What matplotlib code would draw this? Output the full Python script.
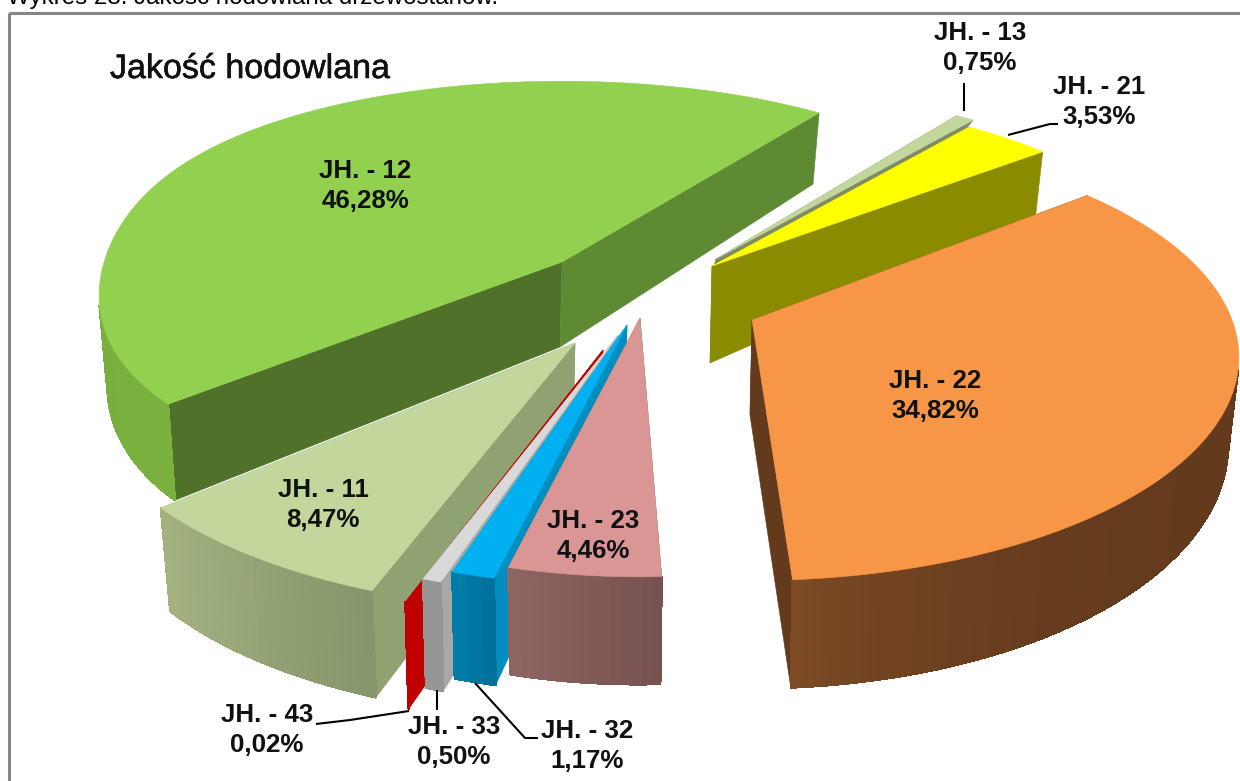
import numpy as np
import matplotlib
matplotlib.use('Agg')
import matplotlib.pyplot as plt
import matplotlib.patheffects as pe
from matplotlib.patches import Polygon, Rectangle

plt.rcParams['font.family'] = ['Liberation Sans', 'DejaVu Sans']

# data, clockwise from the top of the pie
names = ['JH. - 13', 'JH. - 21', 'JH. - 22', 'JH. - 23', 'JH. - 32', 'JH. - 33', 'JH. - 43', 'JH. - 11', 'JH. - 12']
values = [0.75, 3.53, 34.82, 4.46, 1.17, 0.50, 0.02, 8.47, 46.28]

start_angle = 54

# look of each slice: apex, radii, perspective, depth, depth falloff
slice_style = {
    'JH. - 13': dict(apex=(716, 259), R=478, S=207, k=0.208, depth=8, fall=0.0),
    'JH. - 21': dict(apex=(712, 266), R=478, S=207, k=0.208, depth=97, fall=0.47),
    'JH. - 22': dict(apex=(752, 320), R=480, S=217, k=0.167, depth=83, fall=0.3, turn=0.8, apex_depth=95, wall_pow=8),
    'JH. - 23': dict(apex=(640, 318), R=440, S=205, k=0.208, depth=84, fall=0.28, turn=-1),
    'JH. - 32': dict(apex=(627, 325), R=478, S=207, k=0.208, depth=84, fall=0.28),
    'JH. - 33': dict(apex=(618, 335), R=485, S=207, k=0.208, depth=86, fall=0.28),
    'JH. - 43': dict(apex=(603, 350), R=490, S=214, k=0.208, depth=84, fall=0.28),
    'JH. - 11': dict(apex=(575, 343), R=480, S=212, k=0.208, depth=95, fall=0.13, turn=-1, shrink=0.975, span=0.92),
    'JH. - 12': dict(apex=(562, 262), R=482, S=203, k=0.123, depth=85, fall=0.2, squeeze=0.05),
}
# top, cut face, wall start, wall end
slice_colors = {
    'JH. - 13': ('#C3D69B', '#7F8A66', '#7F8A66', '#7F8A66'),
    'JH. - 21': ('#FFFF00', '#8B8B00', '#8B8B00', '#8B8B00'),
    'JH. - 22': ('#F79646', '#643A1D', '#643A1D', '#7E4C26'),
    'JH. - 23': ('#D99694', '#8A6360', '#785250', '#8E6663'),
    'JH. - 32': ('#00B0F0', '#008DBF', '#00719B', '#0081B0'),
    'JH. - 33': ('#D9D9D9', '#A8A8A8', '#969696', '#969696'),
    'JH. - 43': ('#C00000', '#C00000', '#C00000', '#C00000'),
    'JH. - 11': ('#C3D69B', '#91A272', '#86966A', '#A5B383'),
    'JH. - 12': ('#92D050', '#4F7129', '#7AB03E', '#76AB3C'),
}
far_cut_color = {'JH. - 12': '#5F8A34'}

# label centres and leader lines
label_pos = {
    'JH. - 13': (980, 48), 'JH. - 21': (1099, 102), 'JH. - 22': (935, 396),
    'JH. - 23': (593, 536), 'JH. - 32': (587, 746), 'JH. - 33': (454, 742),
    'JH. - 43': (267, 730), 'JH. - 11': (323, 505), 'JH. - 12': (365, 186),
}
leaders = [
    ([964, 964], [83, 111]),
    ([1008, 1050, 1058], [135, 124, 124]),
    ([409, 350, 316], [711, 720, 724]),
    ([437, 437], [690, 710]),
    ([475, 525, 538], [683, 738, 738]),
]


def project(theta, st, lower=False):
    u, v = np.cos(theta), np.sin(theta)
    w = 1 + st['k'] * v
    r = 1 - st.get('squeeze', 0) * abs(u) ** 6
    x = st['R'] * r * u / w
    y = -st['S'] * r * v / w
    if lower:
        x = x * st.get('shrink', 0.98) - 1
        y = y + st['depth'] * (1 - st['fall'] * v)
    return st['apex'][0] + x, st['apex'][1] + y


def apex_points(st):
    ax0, ay0 = st['apex']
    return (ax0, ay0), (ax0 - 2, ay0 + st.get('apex_depth', st['depth']))


def area(pts):
    p = np.array(pts)
    return 0.5 * np.sum(p[:, 0] * np.roll(p[:, 1], -1) - np.roll(p[:, 0], -1) * p[:, 1])


def mix(c1, c2, t):
    a = np.array(matplotlib.colors.to_rgb(c1))
    b = np.array(matplotlib.colors.to_rgb(c2))
    return tuple(a + (b - a) * t)


fig = plt.figure(figsize=(12.4, 7.81), dpi=100)
ax = fig.add_axes([0, 0, 1, 1])
ax.set_xlim(0, 1240)
ax.set_ylim(781, 0)
ax.axis('off')

ax.text(7, 4, 'Wykres 23. Jakość hodowlana drzewostanów.', fontsize=17.4, va='baseline', color='black')
ax.add_patch(Rectangle((8.5, 13), 1300, 900, fill=False, ec='#868686', lw=2.2, zorder=1))

# angles of each slice come from the values
stops = start_angle - np.cumsum([0] + values) * 3.6
spans = {n: (stops[i], stops[i + 1]) for i, n in enumerate(names)}

draw_order = ['JH. - 13', 'JH. - 21', 'JH. - 22', 'JH. - 12', 'JH. - 11', 'JH. - 43', 'JH. - 33', 'JH. - 32', 'JH. - 23']
z = 2
for name in draw_order:
    st = slice_style[name]
    top_c, cut_c, wall_a, wall_b = slice_colors[name]
    a0, a1 = np.radians(np.array(spans[name]) + st.get('turn', 0))
    a1 = a0 + (a1 - a0) * st.get('span', 1)
    n = max(3, int(abs(a1 - a0) * 60))
    th = np.linspace(a0, a1, n)
    top = [project(t, st) for t in th]
    low = [project(t, st, lower=True) for t in th]
    p_top, p_low = apex_points(st)

    # cut faces first, then the outer wall, the top last
    face0 = [p_top, top[0], low[0], p_low]
    face1 = [p_top, top[-1], low[-1], p_low]
    c1 = far_cut_color.get(name, cut_c)
    ax.add_patch(Polygon(face0, fc=cut_c, ec=cut_c, lw=0.4, zorder=z))
    ax.add_patch(Polygon(face1, fc=c1, ec=c1, lw=0.4, zorder=z))
    for i in range(n - 1):
        quad = [top[i], top[i + 1], low[i + 1], low[i]]
        if area(quad) < 0:
            c = mix(wall_a, wall_b, (i / (n - 1)) ** st.get('wall_pow', 1))
            ax.add_patch(Polygon(quad, fc=c, ec=c, lw=1.0, antialiased=False, zorder=z + 0.1))
    ax.add_patch(Polygon([p_top] + top, fc=top_c, ec=top_c, lw=0.4, zorder=z + 0.2))
    z += 1

for name, val in zip(names, values):
    txt = name + '\n' + f'{val:.2f}'.replace('.', ',') + '%'
    ax.text(label_pos[name][0], label_pos[name][1], txt, ha='center', va='center',
            fontsize=18.6, fontweight='bold', linespacing=1.3, color='#111111', zorder=30)

ax.text(110, 78, 'Jakość hodowlana', fontsize=24.5, va='baseline', ha='left', color='#111111', zorder=30,
        path_effects=[pe.withStroke(linewidth=0.4, foreground='#111111')])

for xs, ys in leaders:
    ax.plot(xs, ys, color='black', lw=1.5, zorder=29, solid_capstyle='butt')

fig.savefig('out.png', dpi=100)
